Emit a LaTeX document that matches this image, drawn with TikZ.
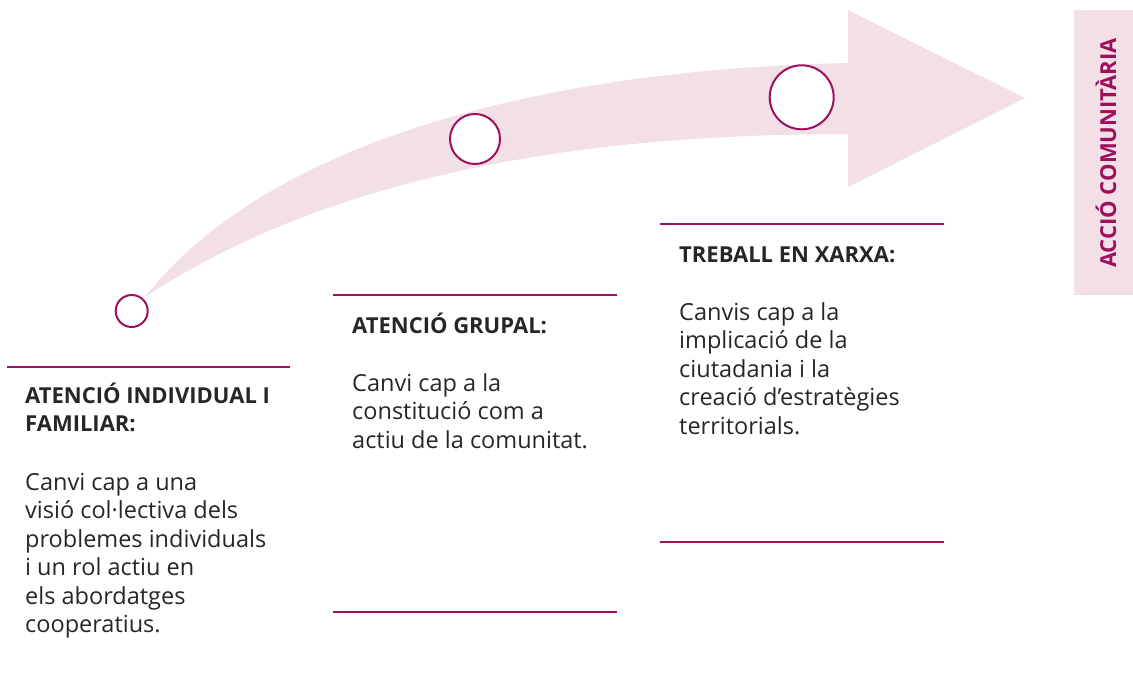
\documentclass[tikz,border=0pt]{standalone}
\usepackage{fontspec}
\setmainfont{Open Sans}
\usepackage{tikz}
\definecolor{acmag}{RGB}{158,16,92}
\definecolor{acpink}{RGB}{242,224,230}
\definecolor{actxt}{RGB}{38,38,38}
\tikzstyle{ring}=[circle,draw=acmag,fill=white,line width=2pt,inner sep=0pt]
\tikzstyle{rl}=[draw=acmag,line width=1.6pt]
\tikzstyle{hd}=[anchor=base west,inner sep=0pt,align=left,text=actxt,font=\bfseries\fontsize{22}{28.5}\selectfont]
\tikzstyle{bd}=[anchor=base west,inner sep=0pt,align=left,text=actxt,font=\fontsize{23.5}{28.5}\selectfont]
\begin{document}
\begin{tikzpicture}[x=1pt,y=-1pt]
  \useasboundingbox (0,0) rectangle (1133,681);
  % curved band with its head
  \fill[acpink] (145,297) .. controls (260,150) and (520,70) .. (848,63)
    -- (848,10) -- (1025,98) -- (848,187) -- (848,134)
    .. controls (580,134) and (330,175) .. (145,297) -- cycle;
  \node[ring,minimum size=32pt] (c_0) at (131.7,311) {};
  \node[ring,minimum size=50pt] (c_1) at (475,139) {};
  \node[ring,minimum size=64pt] (c_2) at (801.7,97.3) {};
  % side label
  \fill[acpink] (1074,10) rectangle (1133,295);
  \node[rotate=90,inner sep=0pt,text=acmag,font=\bfseries\fontsize{22}{26}\selectfont] (side) at (1106,153) {ACCIÓ COMUNITÀRIA};
  % rules
  \coordinate (r_0a) at (7,367);   \coordinate (r_0b) at (290,367);
  \coordinate (r_1a) at (333,295); \coordinate (r_1b) at (617,295);
  \coordinate (r_1c) at (333,612); \coordinate (r_1d) at (617,612);
  \coordinate (r_2a) at (660,224); \coordinate (r_2b) at (944,224);
  \coordinate (r_2c) at (660,542); \coordinate (r_2d) at (944,542);
  \draw[rl] (r_0a) -- (r_0b);
  \draw[rl] (r_1a) -- (r_1b) (r_1c) -- (r_1d);
  \draw[rl] (r_2a) -- (r_2b) (r_2c) -- (r_2d);
  % texts (base = last line)
  \node[hd] (h_0) at (25,431.5) {ATENCIÓ INDIVIDUAL I\\FAMILIAR:};
  \node[bd] (t_0) at (25,632.5) {Canvi cap a una\\visió col·lectiva dels\\problemes individuals\\i un rol actiu en\\els abordatges\\cooperatius.};
  \node[hd] (h_1) at (352,333) {ATENCIÓ GRUPAL:};
  \node[bd] (t_1) at (352,448) {Canvi cap a la\\constitució com a\\actiu de la comunitat.};
  \node[hd] (h_2) at (679,262) {TREBALL EN XARXA:};
  \node[bd] (t_2) at (679,434) {Canvis cap a la\\implicació de la\\ciutadania i la\\creació d’estratègies\\territorials.};
\end{tikzpicture}
\end{document}
